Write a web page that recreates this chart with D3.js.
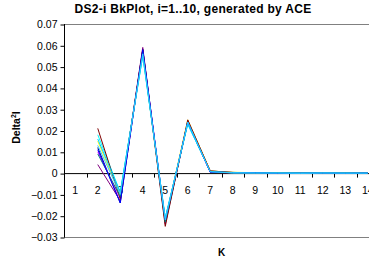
<!DOCTYPE html>
<html>
<head>
<meta charset="utf-8">
<script src="https://cdn.jsdelivr.net/npm/d3@7"></script>
<style>
  body { margin: 0; background: #fff; }
  text { font-family: "Liberation Sans", Arial, sans-serif; }
</style>
</head>
<body>
<div id="chart"></div>
<script>
// categories on the K axis
var kValues = [1, 2, 3, 4, 5, 6, 7, 8, 9, 10, 11, 12, 13, 14];
var yTicks = [0.07, 0.06, 0.05, 0.04, 0.03, 0.02, 0.01, 0, -0.01, -0.02, -0.03];

// one series per i, values for K = 2..14 (K = 1 has no value)
var seriesNames = ["i=1", "i=2", "i=3", "i=4", "i=5", "i=6", "i=7", "i=8", "i=9", "i=10"];
var s1  = [0.012, -0.014, 0.058, -0.023, 0.024, 0.0010, 0.0003, 0.0002, 0.0000, -0.0002, 0.0000, -0.0001, 0.0000];
var s2  = [0.010, -0.012, 0.057, -0.022, 0.024, 0.0003, 0.0002, 0.0001, -0.0001, 0.0000, 0.0001, 0.0000, 0.0000];
var s3  = [0.015, -0.010, 0.056, -0.022, 0.025, 0.0010, 0.0004, 0.0002, 0.0001, -0.0001, 0.0002, 0.0000, 0.0001];
var s4  = [0.018, -0.009, 0.055, -0.021, 0.023, 0.0008, 0.0001, 0.0000, 0.0000, 0.0001, 0.0000, 0.0001, 0.0000];
var s5  = [0.004, -0.013, 0.059, -0.024, 0.024, 0.0005, 0.0002, 0.0000, -0.0002, -0.0001, 0.0000, -0.0002, 0.0000];
var s6  = [0.021, -0.012, 0.058, -0.025, 0.025, 0.0010, 0.0003, 0.0001, 0.0000, -0.0001, -0.0001, 0.0000, 0.0000];
var s7  = [0.009, -0.011, 0.057, -0.023, 0.024, 0.0006, 0.0002, 0.0001, 0.0000, 0.0000, 0.0000, 0.0000, 0.0000];
var s8  = [0.011, -0.014, 0.058, -0.022, 0.024, 0.0004, 0.0003, 0.0002, -0.0001, -0.0001, 0.0000, -0.0001, 0.0000];
var s9  = [0.016, -0.009, 0.055, -0.021, 0.023, 0.0007, 0.0002, 0.0001, 0.0001, 0.0000, 0.0001, 0.0000, 0.0000];
var s10 = [0.013, -0.010, 0.056, -0.022, 0.024, 0.0006, 0.0001, 0.0000, 0.0000, -0.0001, 0.0000, 0.0000, 0.0000];
var allSeries = [s1, s2, s3, s4, s5, s6, s7, s8, s9, s10];
var lineColors = ["#000080", "#FF00FF", "#FFFF00", "#00FFFF", "#800080",
                  "#800000", "#008080", "#0000FF", "#00CCFF", "#33CCFF"];

var w = 369, h = 264;
var padLeft = 64, padTop = 24, plotW = 315, plotH = 213;

var svg = d3.select("#chart").append("svg")
  .attr("width", w).attr("height", h);

var x = d3.scaleBand().domain(kValues).range([padLeft, padLeft + plotW]);
var y = d3.scaleLinear().domain([-0.03, 0.07]).range([padTop + plotH, padTop]);

// title
svg.append("text")
  .attr("x", 193).attr("y", 13)
  .attr("text-anchor", "middle")
  .attr("font-size", "12px").attr("font-weight", "bold")
  .attr("letter-spacing", "0.3px")
  .text("DS2-i BkPlot, i=1..10, generated by ACE");

// plot frame top & bottom (gray)
svg.append("line").attr("x1", padLeft).attr("x2", padLeft + plotW)
  .attr("y1", y(0.07) + 0.5).attr("y2", y(0.07) + 0.5)
  .attr("stroke", "#808080");
svg.append("line").attr("x1", padLeft).attr("x2", padLeft + plotW)
  .attr("y1", y(-0.03) + 0.5).attr("y2", y(-0.03) + 0.5)
  .attr("stroke", "#808080");

// y axis
var yAxis = d3.axisLeft(y).tickValues(yTicks).tickSize(4).tickPadding(3)
  .tickFormat(function(d){ return d === 0 ? "0" : d3.format(".2f")(d); });
var gy = svg.append("g").attr("transform", "translate(" + (padLeft + 0.5) + ",0.5)").call(yAxis);
gy.select(".domain").remove();
gy.append("line").attr("x1", 0).attr("x2", 0)
  .attr("y1", y(0.07) - 0.5).attr("y2", y(-0.03)).attr("stroke", "#000");
gy.selectAll(".tick text").attr("font-size", "10.5px").attr("fill", "#000")
  .attr("font-family", "Liberation Sans, Arial, sans-serif");

// x axis along zero, ticks between categories
var gx = svg.append("g").attr("transform", "translate(0," + (y(0) + 0.5) + ")");
gx.append("line").attr("x1", padLeft).attr("x2", padLeft + plotW).attr("stroke", "#000");
gx.selectAll(".tk").data(kValues).enter().append("line")
  .attr("x1", function(d){ return Math.round(x(d) + x.bandwidth()) + 0.5; })
  .attr("x2", function(d){ return Math.round(x(d) + x.bandwidth()) + 0.5; })
  .attr("y1", 0).attr("y2", 4).attr("stroke", "#000");
gx.selectAll(".lb").data(kValues).enter().append("text")
  .attr("x", function(d){ return x(d) + x.bandwidth() / 2; })
  .attr("y", 20)
  .attr("text-anchor", "middle").attr("font-size", "10.5px")
  .text(function(d){ return d; });

// axis titles
var yTitle = svg.append("text")
  .attr("transform", "translate(20," + (padTop + plotH / 2 - 3) + ") rotate(-90)")
  .attr("text-anchor", "middle").attr("font-size", "10.5px").attr("font-weight", "bold");
yTitle.append("tspan").text("Delta");
yTitle.append("tspan").attr("dy", -4).attr("font-size", "7px").text("2");
yTitle.append("tspan").attr("dy", 4).text("I");

svg.append("text")
  .attr("x", padLeft + plotW / 2).attr("y", 256)
  .attr("text-anchor", "middle").attr("font-size", "10px").attr("font-weight", "bold")
  .text("K");

// series lines
var line = d3.line()
  .x(function(d){ return x(d.k) + x.bandwidth() / 2; })
  .y(function(d){ return y(d.v); });

allSeries.forEach(function(s, i){
  var pts = s.map(function(v, j){ return {k: kValues[j + 1], v: v}; });
  svg.append("path")
    .datum(pts)
    .attr("d", line)
    .attr("fill", "none")
    .attr("stroke", lineColors[i])
    .attr("stroke-width", 1);
});
</script>
</body>
</html>
